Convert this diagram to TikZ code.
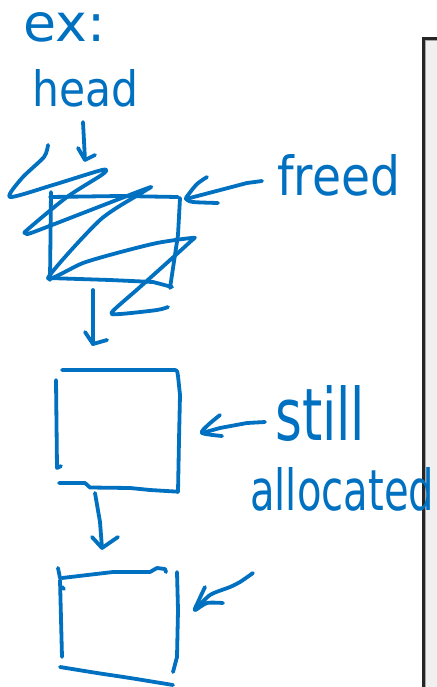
\documentclass[tikz,border=0pt]{standalone}
\usepackage{fontspec}
\setmainfont{DejaVu Sans}
\usetikzlibrary{calc}
\definecolor{ink}{RGB}{0,112,192}
\definecolor{panelgrey}{RGB}{240,240,240}
\begin{document}
\begin{tikzpicture}[x=1pt,y=-1pt,
  pen/.style={draw=ink,line width=3.8pt,line cap=round,line join=round},
  word/.style={text=ink,inner sep=0pt,anchor=base west},
  sketch/.style={pen,smooth,tension=0.45}]
\useasboundingbox (0,0) rectangle (436,687);
\fill[white] (0,0) rectangle (436,687);

% side panel
\fill[panelgrey] (423,38) rectangle (437,688);
\draw[black!85,line width=2.6pt] (423.3,688) -- (423.3,38.3) -- (437,38.3);
\draw[black!35,line width=0.8pt] (425.4,688) -- (425.4,40.4) -- (437,40.4);

% labels
\node[word] (ex) at (23,42) {\resizebox{82pt}{29pt}{ex:}};
\node[word] (head) at (32,107) {\resizebox{106pt}{37pt}{head}};
\node[word] (freed) at (277,195) {\resizebox{123pt}{41pt}{freed}};
\node[word] (still) at (275,440) {\resizebox{90pt}{55pt}{still}};
\node[word] (alloc) at (250,510) {\resizebox{184pt}{43pt}{allocated}};

% arrow from head to the first block
\coordinate (h1) at (83,122);
\coordinate (h2) at (85,160);
\draw[pen] (h1) -- (h2);
\draw[pen] (h2) ++(-7,-12) -- (h2) -- ++(10,-5);

% first block (freed)
\draw[pen] (51,192) -- (50,280);
\draw[pen] (50,197) -- (120,196) -- (178,197);
\draw[pen] (180,198) -- (178,235) -- (170,288);
\draw[pen] (48,278) -- (110,280) -- (153,282) -- (172,287);
\draw[sketch] plot coordinates {(48,145) (44,157) (22,178) (10,197) (53,185)
  (102,170) (103,174) (67,197) (27,230) (26,233) (31,233) (83,213) (148,188)
  (143,192) (100,220) (48,278) (83,263) (117,253) (157,243) (192,238) (190,242)
  (140,287) (112,312) (120,314) (157,310) (168,307)};

% arrow from freed to the first block
\coordinate (f1) at (262,181);
\coordinate (f2) at (186,199);
\draw[pen] (f1) -- (247,183) -- (f2);
\draw[sketch] plot coordinates {(207,177) (197,184) (188,195) (186,199) (193,202) (218,203)};

% arrow from the first block to the second
\coordinate (a1) at (93,290);
\coordinate (a2) at (93,344);
\draw[pen] (a1) -- (a2);
\draw[pen] (a2) ++(-8,-12) -- (a2) -- ++(14,-4);

% second block (still allocated)
\draw[pen] (62,370) -- (175,370) to[out=0,in=100] (178,376) -- (180,395) -- (179,440) -- (178,492);
\draw[pen] (56,380) -- (57,468) -- (61,466);
\draw[pen] (59,483) -- (85,483) -- (90,487.5) -- (130,488) -- (150,490) -- (178,491.7);

% arrow from still to the second block
\coordinate (s1) at (265,422);
\coordinate (s2) at (202,433);
\draw[pen] (s1) -- (247,423) -- (220,428) -- (s2);
\draw[sketch] plot coordinates {(220,415) (208,425) (202,433) (222,436)};

% arrow from the second block to the third
\coordinate (b1) at (95,493);
\coordinate (b2) at (102,548);
\draw[pen] (b1) -- (100,522) -- (b2);
\draw[pen] (b2) ++(-10,-11) -- (b2) -- ++(16,-11);

% third block
\draw[pen] (58,568) -- (60,578);
\draw[pen] (62,578) -- (113,572) -- (150,572) -- (157,568) -- (165,569) -- (166,572);
\draw[pen] (60,580) -- (62,657);
\draw[pen] (62,587) -- (64,589);
\draw[pen] (177,572) -- (178,610) -- (177,657) -- (173,672);
\draw[sketch] plot coordinates {(60,667) (97,673) (130,678) (173,685)};

% arrow pointing at the third block
\coordinate (c1) at (253,573);
\coordinate (c2) at (195,610);
\draw[sketch] plot coordinates {(c1) (240,582) (230,587) (210,595) (c2)};
\draw[sketch] plot coordinates {(205,587) (198,602) (c2) (207,603) (223,603)};
\end{tikzpicture}
\end{document}
